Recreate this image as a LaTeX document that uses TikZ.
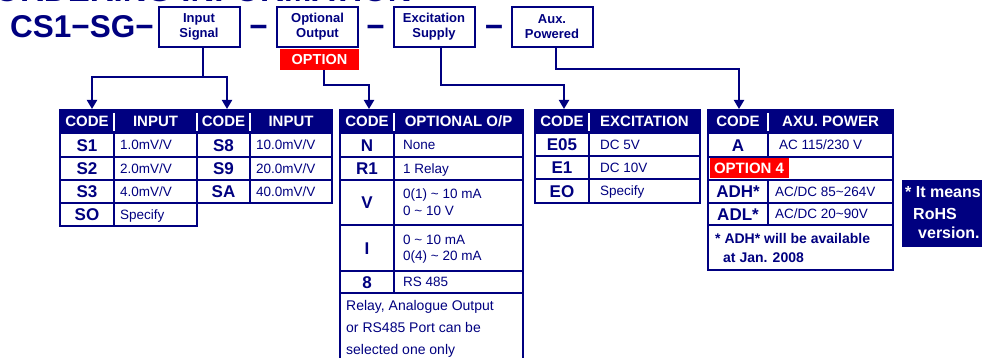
\documentclass[tikz,border=0pt]{standalone}
\usepackage{fontspec}
\setmainfont{Liberation Sans}
\usetikzlibrary{arrows.meta}
\definecolor{navy}{RGB}{0,0,128}
\definecolor{optred}{RGB}{255,0,0}
\newcommand{\myfs}[1]{\fontsize{#1}{#1}\selectfont}
\newcommand{\myfsb}[2]{\fontsize{#1}{#2}\selectfont}
\tikzset{
  gridc/.style={draw=navy, fill=white, line width=2.5pt},
  hdrc/.style={draw=navy, fill=navy, line width=2.5pt},
  hsep/.style={draw=white, line width=1.6pt},
  conn/.style={draw=navy, line width=2pt, -{Triangle[width=10pt,length=9pt]}},
  lbox/.style={draw=navy, line width=2pt, fill=white, minimum width=81pt, minimum height=40pt,
    inner sep=0pt, align=center, text=navy, font=\bfseries\myfsb{13}{15}},
  redlbl/.style={fill=optred, inner sep=0pt, text=white, font=\bfseries\myfs{14.5}},
  hdr/.style={anchor=base, inner sep=0pt, text=white, font=\bfseries\myfs{15}},
  code/.style={anchor=base, inner sep=0pt, text=navy, font=\bfseries\myfs{17}},
  val/.style={anchor=base west, inner sep=0pt, text=navy, font=\myfs{13.5}},
  note/.style={anchor=base west, inner sep=0pt, text=navy, font=\myfs{14}},
  bnote/.style={anchor=base west, inner sep=0pt, text=navy, font=\bfseries\myfs{14}},
  big/.style={anchor=base west, inner sep=0pt, text=navy, font=\bfseries\myfs{31.5}},
  dashsym/.style={anchor=base, inner sep=0pt, text=navy, font=\bfseries\myfs{31.5}},
  rohs/.style={anchor=base west, inner sep=0pt, text=white, font=\bfseries\myfs{16}}
}
\begin{document}
\begin{tikzpicture}[x=1pt,y=-1pt]
\useasboundingbox (0,0) rectangle (982,358);

% clipped title at the very top
\node[anchor=base east, inner sep=0pt, text=navy, font=\bfseries\myfs{33}] (title) at (412,1.5) {ORDERING INFORMATION};

% model code line
\node[big] (model) at (10,38) {CS1−SG−};
\node[lbox] (in) at (199,27) {Input\\Signal};
\node[dashsym] (d1) at (258.5,38) {−};
\node[lbox] (op) at (317.5,27) {Optional\\Output};
\node[dashsym] (d2) at (375.5,38) {−};
\node[lbox] (ex) at (434,27) {Excitation\\Supply};
\node[dashsym] (d3) at (494,38) {−};
\node[lbox] (ax) at (552,27) {Aux.\\Powered};
\node[redlbl, minimum width=79pt, minimum height=21pt] (ol) at (319.5,59.5) {OPTION};

% ---------------- Input table
\draw[hdrc] (60,110) rectangle (332,133);
\foreach \xx in {114,197,250} \draw[hsep] (\xx,113) -- (\xx,131);
\foreach \ya/\yb in {133/157,157/180,180/203}
  \foreach \xa/\xb in {60/114,114/197,197/250,250/332}
    \draw[gridc] (\xa,\ya) rectangle (\xb,\yb);
\draw[gridc] (60,203) rectangle (114,226);
\draw[gridc] (114,203) rectangle (197,226);
\node[hdr] (ih1) at (87,127) {CODE};
\node[hdr] (ih2) at (155.5,127) {INPUT};
\node[hdr] (ih3) at (223.5,127) {CODE};
\node[hdr] (ih4) at (291,127) {INPUT};
\node[code] (is1) at (87,151.1) {S1};
\node[val] (iv1) at (120,149.8) {1.0mV/V};
\node[code] (is2) at (87,174.6) {S2};
\node[val] (iv2) at (120,173.3) {2.0mV/V};
\node[code] (is3) at (87,197.6) {S3};
\node[val] (iv3) at (120,196.3) {4.0mV/V};
\node[code] (iso) at (87,220.6) {SO};
\node[val] (ivo) at (120,219.3) {Specify};
\node[code] (is8) at (223.5,151.1) {S8};
\node[val] (iv8) at (256,149.8) {10.0mV/V};
\node[code] (is9) at (223.5,174.6) {S9};
\node[val] (iv9) at (256,173.3) {20.0mV/V};
\node[code] (isa) at (223.5,197.6) {SA};
\node[val] (iva) at (256,196.3) {40.0mV/V};

% ---------------- Optional output table
\draw[hdrc] (340,110) rectangle (523,133);
\draw[hsep] (394,113) -- (394,131);
\foreach \ya/\yb in {133/157,157/180,180/225,225/271,271/293}
  \foreach \xa/\xb in {340/394,394/523}
    \draw[gridc] (\xa,\ya) rectangle (\xb,\yb);
\draw[gridc] (340,293) rectangle (523,362);
\node[hdr] (oh1) at (367,127) {CODE};
\node[hdr] (oh2) at (458.5,127) {OPTIONAL O/P};
\node[code] (on) at (367,151.1) {N};
\node[val] (onv) at (403,149.8) {None};
\node[code] (or1) at (367,174.6) {R1};
\node[val] (or1v) at (403,173.3) {1 Relay};
\node[code] (ov) at (367,208.6) {V};
\node[val] (ovv1) at (403,199) {0(1) \char`~{} 10 mA};
\node[val] (ovv2) at (403,215) {0 \char`~{} 10 V};
\node[code] (oi) at (367,254.1) {I};
\node[val] (oiv1) at (403,244) {0 \char`~{} 10 mA};
\node[val] (oiv2) at (403,260.5) {0(4) \char`~{} 20 mA};
\node[code] (o8) at (367,288.1) {8};
\node[val] (o8v) at (403,286.8) {RS 485};
\node[note] (on1) at (346,310) {Relay, Analogue Output};
\node[note] (on2) at (346,332) {or RS485 Port can be};
\node[note] (on3) at (346,354) {selected one only};

% ---------------- Excitation table
\draw[hdrc] (535,110) rectangle (700,133);
\draw[hsep] (589,113) -- (589,131);
\foreach \ya/\yb in {133/156,156/179,179/203}
  \foreach \xa/\xb in {535/589,589/700}
    \draw[gridc] (\xa,\ya) rectangle (\xb,\yb);
\node[hdr] (eh1) at (562,127) {CODE};
\node[hdr] (eh2) at (644.5,127) {EXCITATION};
\node[code] (e05) at (562,150.6) {E05};
\node[val] (e05v) at (600,149.3) {DC 5V};
\node[code] (e1) at (562,173.6) {E1};
\node[val] (e1v) at (600,172.3) {DC 10V};
\node[code] (eo) at (562,197.1) {EO};
\node[val] (eov) at (600,195.8) {Specify};

% ---------------- Aux power table
\draw[hdrc] (708,110) rectangle (893,133);
\draw[hsep] (768,113) -- (768,131);
\draw[gridc] (708,133) rectangle (768,157);
\draw[gridc] (768,133) rectangle (893,157);
\draw[gridc] (708,157) rectangle (893,180);
\foreach \ya/\yb in {180/203,203/225}
  \foreach \xa/\xb in {708/768,768/893}
    \draw[gridc] (\xa,\ya) rectangle (\xb,\yb);
\draw[gridc] (708,225) rectangle (893,270);
\node[hdr] (ah1) at (738,127) {CODE};
\node[hdr] (ah2) at (830.5,127) {AXU. POWER};
\node[code] (aa) at (738,151.1) {A};
\node[val] (aav) at (779,149.8) {AC 115/230 V};
\node[redlbl, font=\bfseries\myfs{15}, minimum width=79pt, minimum height=20pt, anchor=west] (o4) at (709.3,168.5) {OPTION 4};
\node[code] (adh) at (738,197.6) {ADH*};
\node[val] (adhv) at (775,196.3) {AC/DC 85\char`~{}264V};
\node[code] (adl) at (738,220.1) {ADL*};
\node[val] (adlv) at (775,218.8) {AC/DC 20\char`~{}90V};
\node[bnote] (an1) at (715,243) {* ADH* will be available};
\node[bnote] (an2) at (723,262) {at Jan. 2008};

% ---------------- RoHS box
\fill[navy] (902,180) rectangle (982,247);
\node[rohs] (r1) at (905,198) {* It means};
\node[rohs] (r2) at (913,219) {RoHS};
\node[rohs] (r3) at (918,238) {version.};

% ---------------- connectors
\coordinate (hi) at (0,77);
\coordinate (ho) at (0,85);
\coordinate (ha) at (0,69);
\coordinate (ti1) at (92,109);
\coordinate (ti2) at (227,109);
\coordinate (to) at (369,109);
\coordinate (te) at (564,109);
\coordinate (ta) at (739,109);
\draw[conn] ([xshift=4pt]in.south) |- (ti1 |- hi) -- (ti1);
\draw[conn] ([xshift=4pt]in.south) |- (ti2 |- hi) -- (ti2);
\draw[conn] ([xshift=4.5pt]ol.south) |- (to |- ho) -- (to);
\draw[conn] ([xshift=7pt]ex.south) |- (te |- ho) -- (te);
\draw[conn] ([xshift=4pt]ax.south) |- (ta |- ha) -- (ta);
\end{tikzpicture}
\end{document}
